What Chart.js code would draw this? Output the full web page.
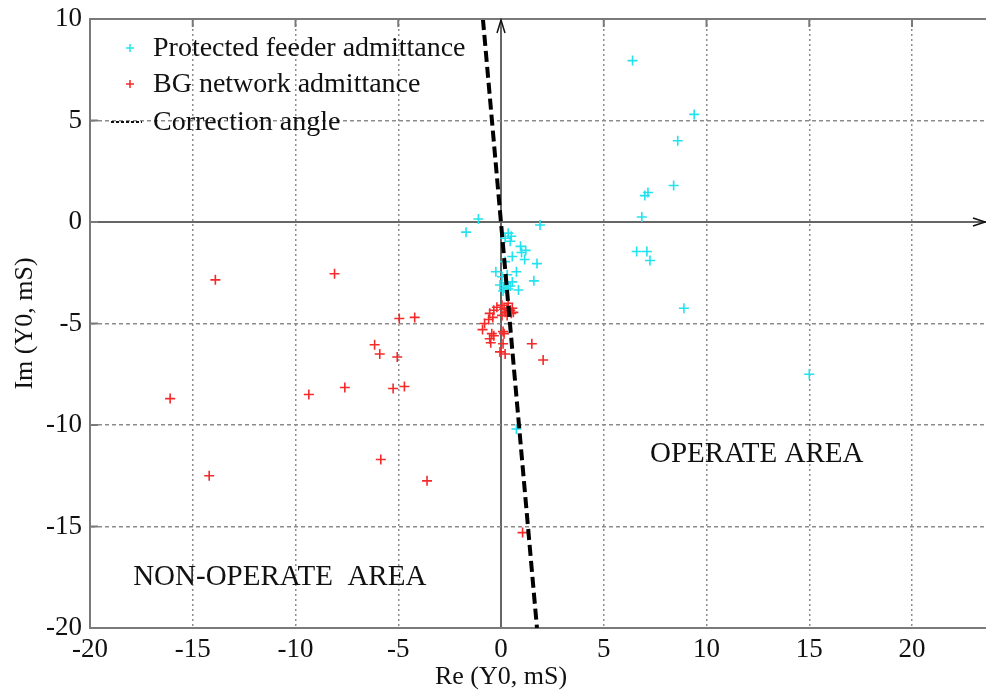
<!DOCTYPE html>
<html>
<head>
<meta charset="utf-8">
<script src="https://cdn.jsdelivr.net/npm/chart.js@4"></script>
<style>
  html, body { margin: 0; padding: 0; background: #fff; }
  #wrap { width: 986px; height: 690px; position: relative; }
</style>
</head>
<body>
<div id="wrap"><canvas id="admChart"></canvas></div>
<script>
// protected feeder admittance (Re, Im in mS)
const feederRe = [6.4, 9.4, 8.6, 8.4, 7.15, 7.0, 6.85, 6.6, 7.1, 7.25, 8.9, 15.0, 0.75,
  -1.1, -1.7, 1.9, 0.35, 0.5, 0.2, 0.45, 0.95, 1.2, 1.0, 0.55, 1.15, 1.75, 0.2, 0.75,
  -0.25, 0.3, 1.6, 0.55, -0.05, 0.15, 0.35, 0.85, 0.05, 0.25, 0.45, 0.1];
const feederIm = [7.95, 5.3, 4.0, 1.8, 1.45, 1.3, 0.25, -1.45, -1.45, -1.9, -4.25, -7.5, -10.2,
  0.15, -0.5, -0.15, -0.55, -0.7, -0.8, -0.95, -1.2, -1.4, -1.5, -1.7, -1.85, -2.05, -1.95, -2.45,
  -2.45, -2.6, -2.9, -2.95, -3.1, -3.25, -3.3, -3.35, -2.7, -3.0, -3.15, -3.4];

// background network admittance
const bgRe = [-13.9, -16.1, -14.2, -8.1, -4.95, -4.2, -6.15, -5.9, -5.05, -9.35, -7.6, -5.25, -4.7,
  -5.85, -3.6, 1.5, 2.05, 1.05,
  -0.35, -0.55, -0.2, 0.05, 0.3, 0.45, 0.2, 0.5, -0.4, -0.8, 0.05, -0.35, -0.55, -0.5, 0.15,
  0.1, -0.05, 0.2, -0.45, 0.1, 0.35, 0.55, 0.3, 0.6, 0.15, 0.4, -0.6, -0.9];
const bgIm = [-2.85, -8.7, -12.5, -2.55, -4.75, -4.7, -6.05, -6.5, -6.65, -8.5, -8.15, -8.2, -8.1,
  -11.7, -12.75, -6.0, -6.8, -15.3,
  -4.35, -4.5, -4.2, -4.1, -4.25, -4.35, -4.45, -4.5, -4.7, -5.0, -4.6, -5.6, -5.75, -5.95, -5.5,
  -6.0, -6.4, -6.5, -5.5, -5.4, -4.0, -4.25, -4.6, -4.45, -4.3, -4.4, -4.8, -5.3];

// correction angle line end points
const corrRe = [-0.88, 1.75];
const corrIm = [10, -20];

const xTicks = [-20, -15, -10, -5, 0, 5, 10, 15, 20];
const yTicks = [10, 5, 0, -5, -10, -15, -20];

const serif = "'Liberation Serif', 'Times New Roman', serif";
const CYAN = '#22e2ef';
const RED = '#f42a2a';
const GRID = '#8c8c8c';
const FRAME = '#7a7a7a';

const toPts = (xs, ys) => xs.map((x, i) => ({ x: x, y: ys[i] }));

// frame, arrows, legend and area labels on top of the plot
const decorations = {
  id: 'decorations',
  afterDraw(chart) {
    const ctx = chart.ctx;
    const a = chart.chartArea;
    const xs = chart.scales.x, ys = chart.scales.y;
    const x0 = xs.getPixelForValue(0), y0 = ys.getPixelForValue(0);
    ctx.save();

    // top frame line and inward ticks
    ctx.strokeStyle = FRAME;
    ctx.lineWidth = 2;
    ctx.beginPath();
    ctx.moveTo(a.left, a.top);
    ctx.lineTo(a.right, a.top);
    ctx.stroke();
    ctx.beginPath();
    xTicks.forEach(v => {
      const px = xs.getPixelForValue(v);
      ctx.moveTo(px, a.top);
      ctx.lineTo(px, a.top + 8);
    });
    yTicks.forEach(v => {
      const py = ys.getPixelForValue(v);
      ctx.moveTo(a.left, py);
      ctx.lineTo(a.left + 8, py);
    });
    ctx.stroke();

    // axis arrows
    ctx.strokeStyle = '#111';
    ctx.lineWidth = 1.5;
    ctx.beginPath();
    ctx.moveTo(x0 - 4, a.top + 14);
    ctx.lineTo(x0, a.top + 1);
    ctx.lineTo(x0 + 4, a.top + 14);
    ctx.moveTo(a.right - 13, y0 - 4);
    ctx.lineTo(a.right - 1, y0);
    ctx.lineTo(a.right - 13, y0 + 4);
    ctx.stroke();

    // legend
    ctx.fillStyle = '#111';
    ctx.font = '28px ' + serif;
    ctx.textBaseline = 'middle';
    ctx.textAlign = 'left';
    const lx = 130, tx = 153;
    const rows = [
      { y: 48, label: 'Protected feeder admittance', color: CYAN },
      { y: 84, label: 'BG network admittance', color: RED },
      { y: 122, label: 'Correction angle', color: null }
    ];
    rows.forEach(r => {
      if (r.color) {
        ctx.strokeStyle = r.color;
        ctx.lineWidth = 1.5;
        ctx.setLineDash([]);
        ctx.beginPath();
        ctx.moveTo(lx - 4, r.y);
        ctx.lineTo(lx + 4, r.y);
        ctx.moveTo(lx, r.y - 4);
        ctx.lineTo(lx, r.y + 4);
        ctx.stroke();
      } else {
        ctx.strokeStyle = '#111';
        ctx.lineWidth = 2;
        ctx.setLineDash([3, 2]);
        ctx.beginPath();
        ctx.moveTo(111, r.y);
        ctx.lineTo(142, r.y);
        ctx.stroke();
        ctx.setLineDash([]);
      }
      ctx.fillText(r.label, tx, r.y + 1);
    });

    // area labels
    ctx.font = '29px ' + serif;
    ctx.fillText('OPERATE AREA', xs.getPixelForValue(7.25), ys.getPixelForValue(-11.45));
    ctx.fillText('NON-OPERATE  AREA', xs.getPixelForValue(-17.9), ys.getPixelForValue(-17.5));

    // axis titles
    ctx.font = '26px ' + serif;
    ctx.textAlign = 'center';
    ctx.fillText('Re (Y0, mS)', x0, 677);
    ctx.translate(25, (a.top + a.bottom) / 2);
    ctx.rotate(-Math.PI / 2);
    ctx.fillText('Im (Y0, mS)', 0, 0);
    ctx.restore();
  }
};

const zeroAware = (solid, other) => c => (c.tick && c.tick.value === 0 ? solid : other);

new Chart(document.getElementById('admChart'), {
  type: 'scatter',
  data: {
    datasets: [
      {
        type: 'line',
        label: 'Correction angle',
        data: toPts(corrRe, corrIm),
        borderColor: '#000',
        borderWidth: 4,
        borderDash: [11, 5],
        pointRadius: 0,
        fill: false,
        order: -1
      },
      {
        label: 'Protected feeder admittance',
        data: toPts(feederRe, feederIm),
        pointStyle: 'cross',
        pointRadius: 5,
        borderColor: CYAN,
        backgroundColor: CYAN,
        pointBorderWidth: 1.6
      },
      {
        label: 'BG network admittance',
        data: toPts(bgRe, bgIm),
        pointStyle: 'cross',
        pointRadius: 5,
        borderColor: RED,
        backgroundColor: RED,
        pointBorderWidth: 1.6
      }
    ]
  },
  options: {
    responsive: true,
    maintainAspectRatio: false,
    animation: false,
    layout: { autoPadding: false, padding: { top: 19, left: 0, right: 0, bottom: 0 } },
    plugins: {
      legend: { display: false },
      tooltip: { enabled: false }
    },
    scales: {
      x: {
        type: 'linear',
        min: -20,
        max: 23.6,
        afterFit: s => {
          s.height = 62;
          s.paddingLeft = 0;
          s.paddingRight = 0;
        },
        ticks: {
          stepSize: 5,
          includeBounds: false,
          padding: 6,
          color: '#111',
          font: { family: serif, size: 27 }
        },
        grid: {
          drawTicks: false,
          color: zeroAware('#666', GRID),
          lineWidth: zeroAware(2, 1.5)
        },
        border: {
          display: true,
          color: FRAME,
          width: 2,
          dash: zeroAware([], [2, 3])
        }
      },
      y: {
        type: 'linear',
        min: -20,
        max: 10,
        afterFit: s => {
          s.width = 90;
          s.paddingTop = 0;
          s.paddingBottom = 0;
        },
        ticks: {
          stepSize: 5,
          padding: 8,
          color: '#111',
          font: { family: serif, size: 27 }
        },
        grid: {
          drawTicks: false,
          color: zeroAware('#666', GRID),
          lineWidth: zeroAware(2, 1.5)
        },
        border: {
          display: true,
          color: FRAME,
          width: 2,
          dash: zeroAware([], [4, 3])
        }
      }
    }
  },
  plugins: [decorations]
});
</script>
</body>
</html>
